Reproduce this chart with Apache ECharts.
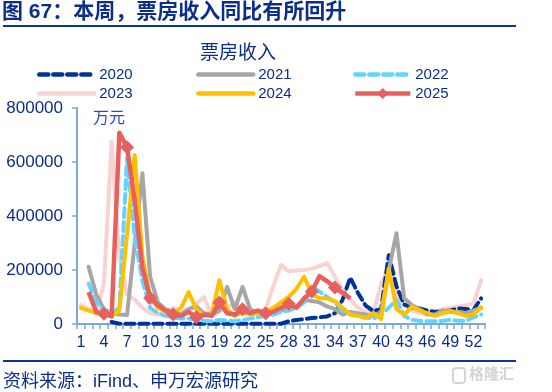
<!DOCTYPE html>
<html>
<head>
<meta charset="utf-8">
<script src="https://cdn.jsdelivr.net/npm/echarts@6/dist/echarts.min.js"></script>
<style>
html,body{margin:0;padding:0;background:#fff;}
#c{width:552px;height:392px;}
</style>
</head>
<body>
<div id="c"></div>
<script>
var weeks = [];
for (var i = 1; i <= 53; i++) weeks.push(String(i));

var y2020 = [null,null,null,null,8000,
  1000,1000,1000,1000,1000,1000,1000,1000,1000,1000,1000,1000,1000,1000,1000,1000,1000,1000,1000,1000,1000,1000,
  10000,15000,18000,22000,25000,28000,40000,90000,172000,115000,68000,48000,55000,
  255000,140000,72000,62000,58000,50000,45000,45000,50000,58000,56000,52000,95000];
var y2021 = [null,212000,110000,55000,40000,35000,33000,300000,558000,175000,
  80000,55000,45000,35000,55000,65000,40000,35000,50000,137000,
  55000,137000,55000,40000,35000,45000,50000,55000,65000,90000,
  85000,80000,65000,55000,35000,45000,40000,35000,30000,45000,
  200000,336000,95000,70000,55000,35000,35000,50000,45000,45000,40000,50000,60000];
var y2022 = [null,150000,80000,50000,40000,60000,615000,320000,160000,60000,
  40000,30000,25000,20000,20000,15000,12000,10000,15000,12000,
  10000,15000,20000,25000,30000,35000,45000,50000,60000,80000,
  140000,120000,100000,80000,50000,35000,30000,25000,20000,35000,
  60000,90000,30000,15000,12000,10000,10000,12000,15000,12000,12000,25000,35000];
var y2023 = [70000,55000,40000,150000,675000,250000,110000,90000,60000,40000,
  35000,45000,60000,45000,55000,75000,100000,30000,45000,60000,
  80000,45000,40000,45000,55000,140000,218000,195000,198000,200000,
  205000,215000,225000,175000,125000,90000,60000,45000,40000,150000,
  210000,100000,70000,50000,40000,40000,45000,55000,60000,65000,70000,75000,163000];
var y2024 = [60000,50000,40000,35000,30000,50000,330000,626000,250000,100000,
  60000,45000,35000,60000,118000,55000,30000,35000,162000,55000,
  30000,45000,35000,40000,45000,60000,80000,100000,130000,175000,
  110000,95000,95000,85000,60000,35000,30000,22000,40000,18000,
  205000,55000,35000,65000,50000,40000,30000,40000,48000,40000,30000,35000,62000];
var y2025 = [null,118000,45000,38000,28000,708000,655000,457000,207000,96000,
  70000,50000,35000,30000,45000,25000,35000,30000,80000,40000,
  35000,55000,40000,50000,40000,45000,60000,75000,60000,95000,
  120000,177000,158000,135000,115000,95000];

var yTicks = [0, 200000, 400000, 600000, 800000];
var seriesNames = ['2020','2021','2022','2023','2024','2025'];

var NAVY = '#0B2E8C';
var AXIS = '#7DA7DA';
var FONT = '"Liberation Sans","Noto Sans CJK SC",sans-serif';

var chart = echarts.init(document.getElementById('c'), null, {renderer: 'canvas'});

function lineSeries(name, data, color, dashed, z) {
  return {
    name: name, type: 'line', data: data, z: z,
    symbol: 'none', showSymbol: false, connectNulls: false,
    lineStyle: {color: color, width: 4, type: dashed ? [9, 5] : 'solid', cap: 'round', join: 'round'},
    itemStyle: {color: color},
    emphasis: {disabled: true}, animation: false
  };
}

var legendPos = [[37,67],[196,67],[353,67],[37,86],[196,86],[353,86]];
var legends = seriesNames.map(function (n, i) {
  var lg = {
    data: [n], left: legendPos[i][0], top: legendPos[i][1], padding: 0,
    itemWidth: 55, itemHeight: 14, itemGap: 0, selectedMode: false,
    lineStyle: {width: 4.5},
    textStyle: {color: NAVY, fontSize: 15, fontFamily: FONT, padding: [0,0,0,0]}
  };
  if (n !== '2025') lg.itemStyle = {opacity: 0};
  return lg;
});

chart.setOption({
  animation: false,
  textStyle: {fontFamily: FONT},
  legend: legends,
  grid: {left: 77, right: 67, top: 108, bottom: 68, containLabel: false},
  xAxis: {
    type: 'category', data: weeks, boundaryGap: true,
    axisLine: {lineStyle: {color: AXIS, width: 2}},
    axisTick: {show: true, interval: 0, length: 5, lineStyle: {color: AXIS, width: 1.5}},
    axisLabel: {interval: 2, color: NAVY, fontSize: 16, fontFamily: FONT, margin: 11}
  },
  yAxis: {
    type: 'value', min: yTicks[0], max: yTicks[yTicks.length - 1], interval: 200000,
    axisLine: {show: true, lineStyle: {color: AXIS, width: 2}},
    axisTick: {show: true, length: 5, lineStyle: {color: AXIS, width: 1.5}},
    splitLine: {show: false},
    axisLabel: {color: NAVY, fontSize: 17, fontFamily: FONT, margin: 14,
      formatter: function (v) { return String(v); }}
  },
  series: [
    lineSeries('2020', y2020, '#003399', true, 2),
    lineSeries('2021', y2021, '#A6A6A6', false, 3),
    lineSeries('2022', y2022, '#66D2FF', true, 4),
    lineSeries('2023', y2023, '#F9D2D2', false, 1),
    lineSeries('2024', y2024, '#FFC000', false, 5),
    {
      name: '2025', type: 'line', data: y2025, z: 6,
      symbol: 'diamond', symbolSize: 14, showSymbol: true,
      lineStyle: {color: '#E8605E', width: 4.5, join: 'round'},
      itemStyle: {color: '#E8605E'},
      emphasis: {disabled: true}, animation: false
    }
  ],
  graphic: [
    {type: 'text', left: 2, top: 2, style: {text: '图 67：本周，票房收入同比有所回升', fill: NAVY,
      font: 'bold 21px ' + FONT}},
    {type: 'line', shape: {x1: 3, y1: 26, x2: 516, y2: 26}, style: {stroke: '#0B3597', lineWidth: 2}},
    {type: 'text', x: 238, y: 54, style: {text: '票房收入', fill: NAVY, font: '19px ' + FONT,
      textAlign: 'center', textVerticalAlign: 'middle'}},
    {type: 'text', x: 93, y: 119, style: {text: '万元', fill: '#2A4AD0', font: '16px ' + FONT,
      textAlign: 'left', textVerticalAlign: 'middle'}},
    {type: 'line', shape: {x1: 3, y1: 361, x2: 516, y2: 361}, style: {stroke: '#0B3597', lineWidth: 2}},
    {type: 'text', x: 3, y: 382, style: {text: '资料来源：iFind、申万宏源研究', fill: NAVY, font: '18px ' + FONT,
      textAlign: 'left', textVerticalAlign: 'middle'}},
    {type: 'rect', shape: {x: 453, y: 368, width: 12, height: 15, r: 3}, style: {fill: 'none', stroke: '#D4D4D4', lineWidth: 2}},
    {type: 'text', x: 469, y: 375, style: {text: '格隆汇', fill: '#D4D4D4', font: 'bold 15px ' + FONT,
      textAlign: 'left', textVerticalAlign: 'middle'}}
  ]
});
</script>
</body>
</html>
